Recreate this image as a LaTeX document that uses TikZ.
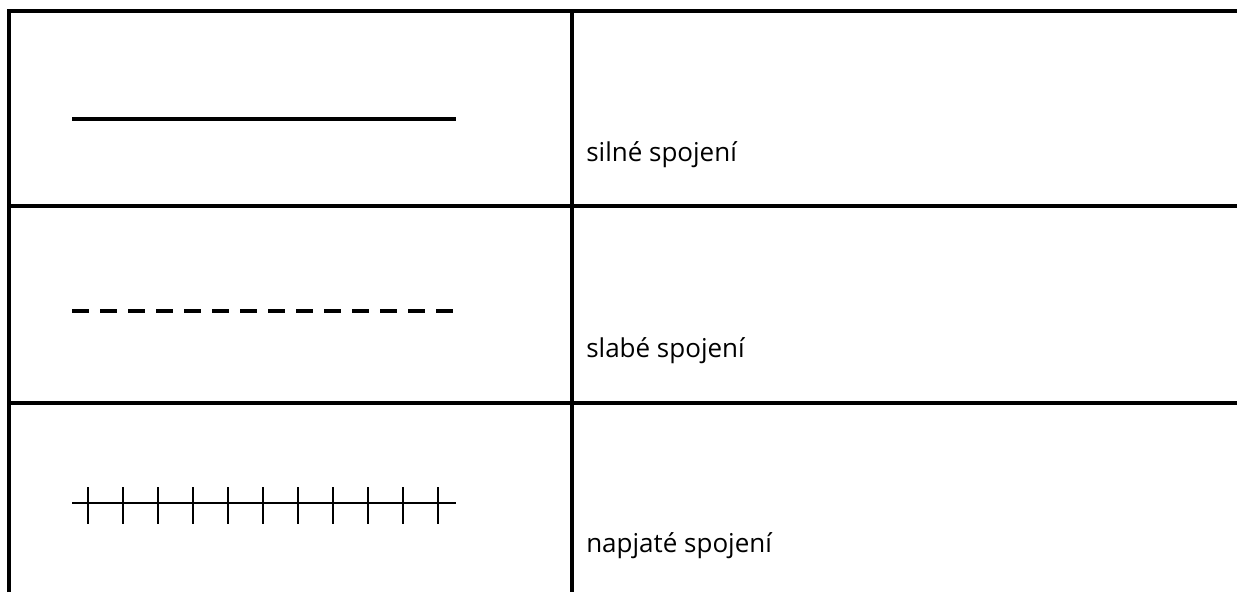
\documentclass[tikz,border=0pt]{standalone}
\usepackage{fontspec}
\setmainfont{Open Sans}
\usetikzlibrary{positioning}

\begin{document}
\begin{tikzpicture}[x=0.75pt,y=-0.75pt,
                    gridline/.style={line width=2.4pt},
                    strongbond/.style={line width=3pt},
                    weakbond/.style={line width=3pt,dash pattern=on 12.5pt off 8.5pt},
                    tensebond/.style={line width=1pt},
                    label/.style={anchor=west,inner sep=0pt,font=\fontsize{19.5}{23}\selectfont}]
  \useasboundingbox (0,0) rectangle (1237,592);

  % table
  \draw[gridline] (9,592) -- (9,11) -- (1237,11);
  \draw[gridline] (572,11) -- (572,592);
  \draw[gridline] (9,206) -- (1237,206);
  \draw[gridline] (9,403) -- (1237,403);

  % samples
  \coordinate (s1) at (72,119);
  \coordinate (e1) at (456,119);
  \coordinate (s2) at (72,311);
  \coordinate (e2) at (460,311);
  \coordinate (s3) at (72,503);
  \coordinate (e3) at (456,503);

  \draw[strongbond] (s1) -- (e1);
  \draw[weakbond] (s2) -- (e2);
  \draw[tensebond] (s3) -- (e3);
  \foreach \i in {0,...,10}
    \draw[tensebond] (88+35*\i,487) -- (88+35*\i,524);

  % texts
  \node[label] (strong) at (586,155) {silné spojení};
  \node[label] (weak)   at (586,351) {slabé spojení};
  \node[label] (tense)  at (586,546) {napjaté spojení};
\end{tikzpicture}
\end{document}
